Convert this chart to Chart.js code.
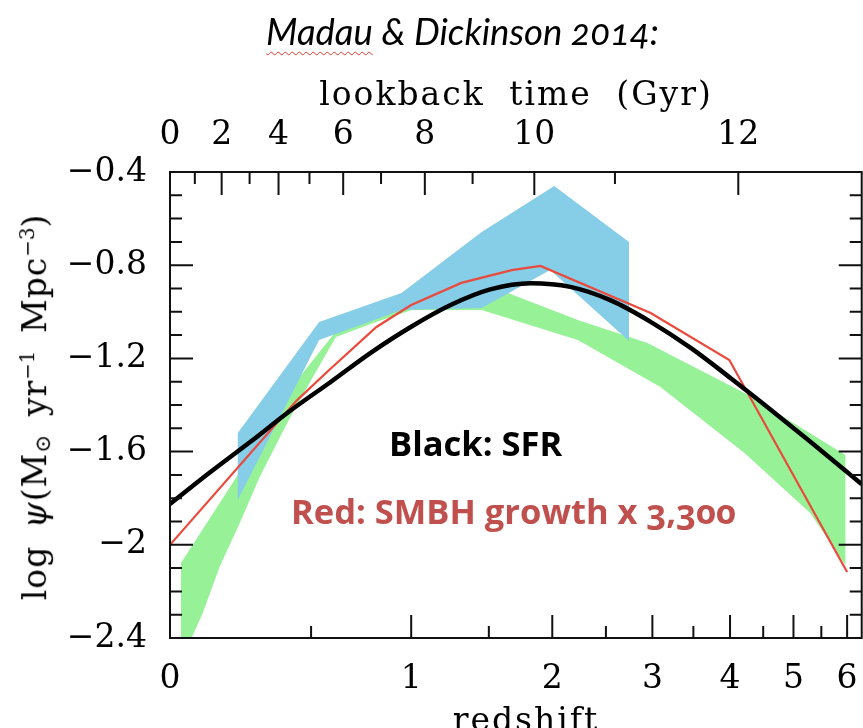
<!DOCTYPE html>
<html>
<head>
<meta charset="utf-8">
<script src="https://cdn.jsdelivr.net/npm/chart.js@4.4.0/dist/chart.umd.min.js"></script>
<style>
  html, body { margin: 0; padding: 0; background: #fff; }
  body { width: 863px; height: 728px; overflow: hidden; position: relative; }
  #chart { position: absolute; left: 0; top: 0; }
  .txt { position: absolute; white-space: nowrap; line-height: 1; color: #000; }
  #title { left: 266px; top: 9px; font: italic 36.5px Lato, sans-serif; font-feature-settings: "onum"; }
  #title .typo { text-decoration: underline wavy #e23b2e; text-decoration-thickness: 1px; text-underline-offset: 6px; }
  .axis-title { font-family: 'DejaVu Serif', serif; font-size: 33px; letter-spacing: 2px; word-spacing: 12px; }
  #top-title { left: 516px; top: 77px; transform: translateX(-50%); }
  #bottom-title { left: 526px; top: 703px; transform: translateX(-50%); }
  #y-title { left: 36px; top: 407px; letter-spacing: 1px; word-spacing: 6px; transform: translate(-50%, -50%) rotate(-90deg); }
  #y-title .sub { font-size: 0.65em; vertical-align: -0.2em; }
  #y-title .sup { font-size: 0.6em; vertical-align: 0.6em; letter-spacing: 0; }
  .note { font: bold 34.5px 'Open Sans', sans-serif; font-feature-settings: "onum"; }
  #note-black { left: 389px; top: 419px; }
  #note-red { left: 291px; top: 487px; color: #c0504d; }
</style>
</head>
<body>
<canvas id="chart" width="880" height="728"></canvas>
<div class="txt" id="title"><span class="typo">Madau</span> &amp; Dickinson 2014:</div>
<div class="txt axis-title" id="top-title">lookback time (Gyr)</div>
<div class="txt axis-title" id="bottom-title">redshift</div>
<div class="txt axis-title" id="y-title">log <i>ψ</i>(M<span class="sub">⊙</span> yr<span class="sup">−1</span> Mpc<span class="sup">−3</span>)</div>
<div class="txt note" id="note-black">Black: SFR</div>
<div class="txt note" id="note-red">Red: SMBH growth x 3,300</div>
<script>
// bottom axis: redshift, spaced in log(1+z)
const redshiftTicks = [0, 1, 2, 3, 4, 5, 6];
const redshiftLabels = ['0', '1', '2', '3', '4', '5', '6'];
const redshiftMinor = [0.5, 1.5, 2.5, 3.5, 4.5, 5.5];
const redshiftMax = 6.3;

// top axis: lookback time in Gyr, placed at the matching redshift
const lookbackLabels = ['0', '2', '4', '6', '8', '10', '12'];
const lookbackZ = [0, 0.160, 0.366, 0.645, 1.080, 1.849, 4.12];
const lookbackMinorZ = [0.074, 0.257, 0.493, 0.834, 1.386, 2.592];

// left axis: log psi
const psiTicks = [-0.4, -0.8, -1.2, -1.6, -2, -2.4];
const psiLabels = ['−0.4', '−0.8', '−1.2', '−1.6', '−2', '−2.4'];
const psiMinor = [-0.5, -0.6, -0.7, -0.9, -1.0, -1.1, -1.3, -1.4, -1.5, -1.7, -1.8, -1.9, -2.1, -2.2, -2.3];

// star formation rate density (black curve)
const sfrZ = [0, 0.12, 0.26, 0.41, 0.59, 0.78, 1.0, 1.24, 1.51, 1.82, 2.16, 2.55, 2.98, 3.47, 4.01, 4.62, 5.31, 6.08, 6.3];
const sfrLog = [-1.825, -1.691, -1.558, -1.427, -1.299, -1.176, -1.064, -0.971, -0.904, -0.877, -0.893, -0.951, -1.043, -1.156, -1.285, -1.420, -1.560, -1.702, -1.74];

// black hole accretion rate density x 3300 (red line)
const bhZ = [0, 0.44, 0.58, 0.81, 1.0, 1.31, 1.67, 1.90, 2.98, 3.99, 6.0];
const bhLog = [-2.0, -1.38, -1.25, -1.065, -0.971, -0.876, -0.821, -0.803, -1.005, -1.207, -2.117];

// SFR range (green band): upper and lower edges
const greenUpperZ = [0.032, 0.215, 0.409, 0.611, 0.807, 1.163, 1.642, 2.228, 2.945, 4.212, 5.966];
const greenUpper = [-2.078, -1.700, -1.336, -1.083, -1.010, -0.962, -0.919, -1.035, -1.134, -1.348, -1.615];
const greenLowerZ = [0.032, 0.064, 0.099, 0.153, 0.222, 0.294, 0.380, 0.422, 0.493, 0.611, 0.807, 1.005, 1.449, 2.228, 3.093, 4.212, 5.295, 5.966];
const greenLower = [-2.51, -2.40, -2.292, -2.095, -1.906, -1.709, -1.520, -1.434, -1.306, -1.108, -1.044, -0.992, -0.992, -1.121, -1.323, -1.606, -1.864, -2.087];

// black hole accretion range (blue band)
const blueUpperZ = [0.215, 0.535, 0.945, 1.449, 2.017, 2.74];
const blueUpper = [-1.520, -1.044, -0.919, -0.657, -0.460, -0.700];
const blueLowerZ = [0.215, 0.535, 0.945, 1.449, 1.982, 2.74];
const blueLower = [-1.808, -1.121, -0.992, -0.984, -0.821, -1.125];

const toX = z => Math.log10(1 + z);
const pairs = (zs, vs) => zs.map((z, i) => ({ x: toX(z), y: vs[i] }));
// closed outline: upper edge left to right, lower edge back
const band = (uz, uv, lz, lv) => pairs(uz, uv).concat(pairs(lz, lv).reverse());

const serif = "'DejaVu Serif', serif";
const tickFont = { family: serif, size: 33 };
const xMax = toX(redshiftMax);

const fixedTicks = values => scale => { scale.ticks = values.map(v => ({ value: v })); };

// SM-style frame with ticks pointing inward
const frameTicks = {
  id: 'frameTicks',
  afterDraw(chart) {
    const { ctx, chartArea: a } = chart;
    const { x, xTop, y } = chart.scales;
    const MAJOR = 23, MINOR = 12;
    ctx.save();
    ctx.strokeStyle = '#111';
    ctx.lineWidth = 2;
    ctx.beginPath();
    const bottom = (v, len) => { const p = x.getPixelForValue(v); ctx.moveTo(p, a.bottom); ctx.lineTo(p, a.bottom - len); };
    const top = (v, len) => { const p = xTop.getPixelForValue(v); ctx.moveTo(p, a.top); ctx.lineTo(p, a.top + len); };
    const sides = (v, len) => {
      const p = y.getPixelForValue(v);
      ctx.moveTo(a.left, p); ctx.lineTo(a.left + len, p);
      ctx.moveTo(a.right, p); ctx.lineTo(a.right - len, p);
    };
    redshiftTicks.forEach(z => bottom(toX(z), MAJOR));
    redshiftMinor.forEach(z => bottom(toX(z), MINOR));
    lookbackZ.forEach(z => top(toX(z), MAJOR));
    lookbackMinorZ.forEach(z => top(toX(z), MINOR));
    psiTicks.forEach(v => sides(v, MAJOR));
    psiMinor.forEach(v => sides(v, MINOR));
    ctx.stroke();
    ctx.strokeRect(a.left, a.top, a.right - a.left, a.bottom - a.top);
    ctx.restore();
  }
};

const hiddenGrid = { display: false, drawTicks: false };
const noBorder = { display: false };

new Chart(document.getElementById('chart'), {
  type: 'line',
  data: {
    datasets: [
      {
        label: 'SFR',
        data: pairs(sfrZ, sfrLog),
        borderColor: '#000',
        borderWidth: 4.5,
        pointRadius: 0,
        cubicInterpolationMode: 'monotone',
        fill: false
      },
      {
        label: 'SMBH growth x 3,300',
        data: pairs(bhZ, bhLog),
        borderColor: '#ea4a3c',
        borderWidth: 2.2,
        pointRadius: 0,
        tension: 0,
        fill: false
      },
      {
        label: 'BHAR range',
        data: band(blueUpperZ, blueUpper, blueLowerZ, blueLower),
        borderWidth: 0,
        backgroundColor: '#86cde8',
        pointRadius: 0,
        tension: 0,
        fill: 'shape'
      },
      {
        label: 'SFR range',
        data: band(greenUpperZ, greenUpper, greenLowerZ, greenLower),
        borderWidth: 0,
        backgroundColor: '#97f297',
        pointRadius: 0,
        tension: 0,
        fill: 'shape'
      }
    ]
  },
  options: {
    responsive: false,
    animation: false,
    devicePixelRatio: 1,
    layout: { padding: 0 },
    plugins: {
      legend: { display: false },
      tooltip: { enabled: false },
      title: { display: false }
    },
    scales: {
      x: {
        type: 'linear',
        position: 'bottom',
        min: 0,
        max: xMax,
        grid: hiddenGrid,
        border: noBorder,
        afterBuildTicks: fixedTicks(redshiftTicks.map(toX)),
        afterFit: scale => { scale.height = 90; },
        ticks: {
          font: tickFont,
          color: '#000',
          padding: 22,
          maxRotation: 0,
          autoSkip: false,
          callback: (v, i) => redshiftLabels[i]
        }
      },
      xTop: {
        type: 'linear',
        position: 'top',
        min: 0,
        max: xMax,
        grid: hiddenGrid,
        border: noBorder,
        afterBuildTicks: fixedTicks(lookbackZ.map(toX)),
        afterFit: scale => { scale.height = 172; },
        ticks: {
          font: tickFont,
          color: '#000',
          padding: 17,
          maxRotation: 0,
          autoSkip: false,
          callback: (v, i) => lookbackLabels[i]
        }
      },
      y: {
        type: 'linear',
        position: 'left',
        min: -2.4,
        max: -0.4,
        grid: hiddenGrid,
        border: noBorder,
        afterBuildTicks: fixedTicks(psiTicks),
        afterFit: scale => { scale.width = 170; },
        ticks: {
          font: tickFont,
          color: '#000',
          padding: 23,
          autoSkip: false,
          callback: (v, i) => psiLabels[i]
        }
      },
      yRight: {
        type: 'linear',
        position: 'right',
        min: -2.4,
        max: -0.4,
        grid: hiddenGrid,
        border: noBorder,
        ticks: { display: false },
        afterFit: scale => { scale.width = 15; }
      }
    }
  },
  plugins: [frameTicks]
});
</script>
</body>
</html>
